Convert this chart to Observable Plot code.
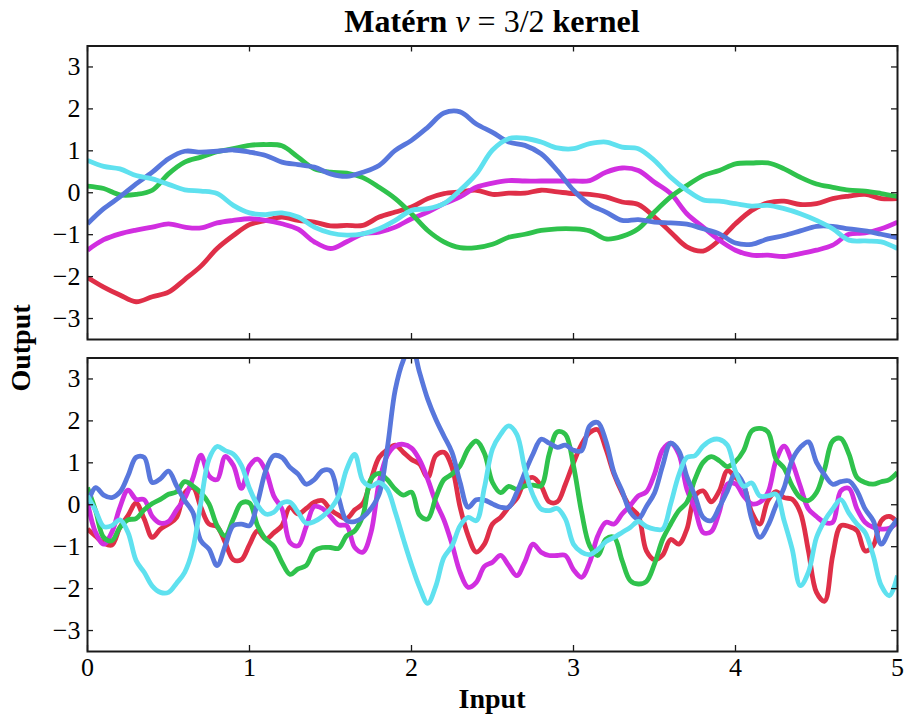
<!DOCTYPE html>
<html>
<head>
<meta charset="utf-8">
<script src="https://cdn.jsdelivr.net/npm/d3@7"></script>
<script src="https://cdn.jsdelivr.net/npm/@observablehq/plot@0.6"></script>
<style>
  body { margin: 0; background: #fff; }
  #wrap { position: relative; width: 906px; height: 719px; font-family: "Liberation Serif", serif; color: #000; overflow: hidden; }
  #title { position: absolute; left: 87px; width: 810px; top: 5px; text-align: center; font-size: 32px; line-height: 32px; white-space: nowrap; }
  #xlabel { position: absolute; left: 87px; width: 810px; top: 685px; text-align: center; font-size: 28px; line-height: 28px; font-weight: bold; }
  #ylabel { position: absolute; left: 21px; top: 348px; transform: translate(-50%, -50%) rotate(-90deg); font-size: 28px; line-height: 28px; font-weight: bold; white-space: nowrap; }
  .panel { position: absolute; left: 0; }
  .panel svg { overflow: visible; }
</style>
</head>
<body>
<div id="wrap">
  <div id="title"><b>Matérn</b> <i>ν</i> = 3/2 <b>kernel</b></div>
  <div class="panel" id="top" style="top:0px"></div>
  <div class="panel" id="bot" style="top:340px"></div>
  <div id="ylabel">Output</div>
  <div id="xlabel">Input</div>
</div>
<script>
// ---------- data ----------
const xTicks = [0, 1, 2, 3, 4, 5];
const yTicks = [-3, -2, -1, 0, 1, 2, 3];

const xTop = [0,0.1,0.2,0.3,0.4,0.5,0.6,0.7,0.8,0.9,1.0,1.1,1.2,1.3,1.4,1.5,1.6,1.7,1.8,1.9,2.0,2.1,2.2,2.3,2.4,2.5,2.6,2.7,2.8,2.9,3.0,3.1,3.2,3.3,3.4,3.5,3.6,3.7,3.8,3.9,4.0,4.1,4.2,4.3,4.4,4.5,4.6,4.7,4.8,4.9,5.0];

const topRed = [-2.02,-2.25,-2.44,-2.60,-2.48,-2.37,-2.07,-1.75,-1.33,-1.02,-0.76,-0.66,-0.58,-0.66,-0.70,-0.79,-0.78,-0.78,-0.58,-0.46,-0.34,-0.14,-0.02,0.02,0.06,-0.04,-0.01,-0.01,0.06,0.02,-0.02,-0.04,-0.10,-0.22,-0.28,-0.58,-0.94,-1.29,-1.39,-1.13,-0.74,-0.42,-0.24,-0.20,-0.28,-0.26,-0.14,-0.08,-0.04,-0.14,-0.14];
const topBlue = [-0.74,-0.38,-0.10,0.21,0.49,0.81,0.99,0.97,0.99,1.02,0.97,0.89,0.73,0.67,0.61,0.45,0.39,0.49,0.65,1.01,1.25,1.56,1.90,1.93,1.64,1.44,1.21,1.13,0.93,0.53,0.06,-0.28,-0.46,-0.66,-0.64,-0.70,-0.72,-0.75,-0.86,-0.98,-1.20,-1.23,-1.10,-1.02,-0.91,-0.80,-0.80,-0.86,-0.91,-0.99,-1.07];
const topGreen = [0.16,0.10,-0.05,-0.04,0.06,0.45,0.73,0.85,0.98,1.05,1.13,1.15,1.12,0.85,0.57,0.49,0.47,0.36,0.13,-0.14,-0.50,-0.90,-1.17,-1.31,-1.31,-1.23,-1.06,-0.99,-0.90,-0.86,-0.86,-0.91,-1.10,-1.04,-0.86,-0.46,-0.10,0.17,0.41,0.53,0.69,0.71,0.71,0.57,0.37,0.21,0.13,0.06,0.04,-0.02,-0.09];
const topMagenta = [-1.37,-1.12,-0.98,-0.89,-0.82,-0.74,-0.82,-0.84,-0.72,-0.66,-0.62,-0.66,-0.74,-0.87,-1.17,-1.33,-1.17,-0.98,-0.94,-0.82,-0.62,-0.46,-0.26,-0.10,0.13,0.23,0.29,0.28,0.28,0.28,0.28,0.29,0.49,0.59,0.53,0.25,-0.02,-0.50,-0.82,-1.13,-1.37,-1.49,-1.49,-1.52,-1.45,-1.37,-1.25,-0.99,-0.96,-0.86,-0.70];
const topCyan = [0.77,0.63,0.57,0.41,0.33,0.20,0.07,0.04,-0.02,-0.30,-0.48,-0.52,-0.48,-0.58,-0.82,-0.96,-1.01,-0.98,-0.86,-0.66,-0.42,-0.38,-0.26,0.06,0.45,1.02,1.29,1.30,1.21,1.07,1.05,1.17,1.21,1.09,1.05,0.77,0.37,0.06,-0.17,-0.20,-0.26,-0.32,-0.30,-0.38,-0.50,-0.66,-0.86,-1.13,-1.15,-1.17,-1.33];

const xBot = [0,0.05,0.1,0.15,0.2,0.25,0.3,0.35,0.4,0.45,0.5,0.55,0.6,0.65,0.7,0.75,0.8,0.85,0.9,0.95,1.0,1.05,1.1,1.15,1.2,1.25,1.3,1.35,1.4,1.45,1.5,1.55,1.6,1.65,1.7,1.75,1.8,1.85,1.9,1.95,2.0,2.05,2.1,2.15,2.2,2.25,2.3,2.35,2.4,2.45,2.5,2.55,2.6,2.65,2.7,2.75,2.8,2.85,2.9,2.95,3.0,3.05,3.1,3.15,3.2,3.25,3.3,3.35,3.4,3.45,3.5,3.55,3.6,3.65,3.7,3.75,3.8,3.85,3.9,3.95,4.0,4.05,4.1,4.15,4.2,4.25,4.3,4.35,4.4,4.45,4.5,4.55,4.6,4.65,4.7,4.75,4.8,4.85,4.9,4.95,5.0];

const botRed = [-0.58,-0.75,-0.91,-0.96,-0.54,-0.26,0.04,-0.34,-0.78,-0.58,-0.46,-0.30,0.28,0.41,-0.06,-0.46,-0.52,-0.90,-1.31,-1.31,-0.95,-0.62,-0.82,-0.67,-0.50,-0.06,-0.22,-0.09,0.06,0.10,-0.12,-0.25,-0.33,-0.12,0.03,0.60,1.13,1.31,1.42,1.25,1.08,0.97,0.65,1.17,1.25,0.89,-0.06,-0.74,-1.13,-0.94,-0.46,-0.30,-0.06,0.15,0.55,0.65,0.45,0.07,0.07,0.49,1.00,1.44,1.72,1.79,1.33,0.73,0.29,-0.06,-0.26,-1.10,-1.31,-1.20,-0.83,-0.94,-0.58,0.21,0.33,0.07,0.33,0.81,0.65,0.45,-0.18,-0.46,0.10,0.31,0.17,0.13,-0.18,-1.10,-2.09,-2.30,-1.21,-0.50,-0.52,-0.62,-1.10,-0.98,-0.38,-0.28,-0.42];
const botBlue = [0.02,0.41,0.23,0.17,0.30,0.69,1.13,1.13,0.53,0.62,0.80,0.45,0.10,-0.18,-0.86,-1.06,-1.45,-0.98,-0.50,-0.46,-0.50,0.06,0.81,1.17,1.13,0.89,0.73,0.49,0.60,0.81,0.81,0.17,-0.38,-0.40,-0.30,-0.09,0.25,1.33,2.75,3.45,3.80,3.15,2.52,2.04,1.64,1.25,0.53,-0.06,0.12,0.11,0.02,-0.06,-0.06,0.29,0.77,1.21,1.56,1.47,1.37,1.42,1.30,1.29,1.88,1.96,1.52,0.77,0.33,-0.17,-0.34,-0.04,0.28,0.93,1.47,1.29,0.67,0.21,-0.30,-0.38,-0.06,0.33,0.75,0.49,-0.34,-0.78,-0.50,-0.02,0.41,1.07,1.37,1.50,1.01,0.71,0.49,0.55,0.57,0.33,-0.10,-0.38,-0.94,-0.62,-0.34];
const botGreen = [0.41,-0.14,-0.78,-0.86,-0.54,-0.36,-0.33,-0.12,0.03,0.13,0.25,0.31,0.55,0.45,0.29,0.02,-0.50,-0.74,-0.34,0.04,0.04,-0.50,-0.82,-0.99,-1.37,-1.66,-1.53,-1.45,-1.10,-1.02,-1.02,-1.04,-0.74,-0.62,-0.26,0.61,0.75,0.60,0.37,0.23,0.30,-0.25,-0.34,0.17,0.60,0.73,0.93,1.33,1.52,1.23,0.53,0.29,0.44,0.37,0.45,0.47,0.45,1.21,1.74,1.68,0.93,-0.18,-0.98,-1.21,-0.82,-0.78,-1.33,-1.81,-1.89,-1.83,-1.41,-0.83,-0.46,-0.14,0.06,0.61,1.01,1.15,1.05,0.91,1.03,1.29,1.76,1.82,1.74,1.09,0.87,0.45,0.17,0.10,0.29,0.85,1.52,1.58,1.21,0.65,0.53,0.49,0.55,0.60,0.77];
const botMagenta = [0.06,-0.66,-0.94,-0.66,-0.06,0.35,0.13,0.12,-0.28,-0.44,-0.40,-0.12,0.15,0.63,1.18,0.69,0.60,1.15,0.94,0.39,0.93,1.09,0.81,0.21,-0.10,-0.90,-0.98,-0.52,-0.04,-0.09,-0.28,-0.48,-0.50,-1.02,-1.13,-0.66,0.53,1.17,1.40,1.44,1.35,1.07,0.61,0.06,-0.36,-0.94,-1.61,-1.97,-1.85,-1.47,-1.37,-1.21,-1.45,-1.69,-1.36,-0.94,-1.13,-1.21,-1.21,-1.21,-1.55,-1.73,-1.37,-0.74,-0.42,-0.46,-0.22,-0.02,0.21,0.31,0.73,1.31,1.47,1.21,0.37,-0.10,-0.66,-0.64,-0.17,0.49,0.50,0.21,0.02,0.06,0.29,1.05,1.40,1.01,0.44,-0.10,-0.28,-0.42,-0.42,0.33,0.39,-0.10,-0.42,-0.54,-0.58,-0.56,-0.42];
const botCyan = [0.21,-0.14,-0.52,-0.50,-0.36,-0.66,-1.33,-1.61,-1.94,-2.09,-2.09,-1.87,-1.61,-1.06,0.06,1.09,1.39,1.29,1.21,0.94,0.39,-0.01,-0.22,-0.18,0.04,0.06,-0.18,-0.44,-0.40,-0.28,-0.10,0.20,0.85,1.20,0.57,0.44,0.53,0.37,-0.18,-0.82,-1.43,-1.97,-2.35,-1.94,-1.26,-0.98,-0.50,-0.30,-0.38,0.41,1.33,1.68,1.88,1.68,0.85,0.23,-0.10,-0.14,-0.09,-0.34,-0.94,-1.13,-1.19,-1.07,-0.88,-0.78,-0.66,-0.54,-0.40,-0.52,-0.58,-0.58,0.02,0.71,1.13,1.17,1.40,1.54,1.56,1.42,0.80,0.44,0.52,0.21,0.21,0.25,-0.38,-1.06,-1.93,-1.61,-0.78,-0.38,-0.10,0.12,-0.20,-0.46,-0.66,-1.21,-1.93,-2.17,-1.69];

const seriesColors = { red: "#df2f48", magenta: "#d12ee0", green: "#2fc24c", blue: "#5877dc", cyan: "#5fe1ef" };
const seriesOrder = ["red", "magenta", "green", "blue", "cyan"];
const topSeries = { red: topRed, blue: topBlue, green: topGreen, magenta: topMagenta, cyan: topCyan };
const botSeries = { red: botRed, blue: botBlue, green: botGreen, magenta: botMagenta, cyan: botCyan };

// ---------- drawing ----------
const PH = 293.5, PW = 810;
const fmt = d => (d < 0 ? "\u2212" + Math.abs(d) : String(d));
const rows = (xs, ys) => xs.map((x, i) => ({ x, y: ys[i] }));
const ink = "#1a1a1a";

function panel({ xs, series, marginTop, marginBottom, showX, curve }) {
  const marks = [];
  for (const name of seriesOrder) {
    marks.push(Plot.line(rows(xs, series[name]), {
      x: "x", y: "y", stroke: seriesColors[name], strokeWidth: 4.8,
      curve, clip: true, strokeLinejoin: "round", strokeLinecap: "butt"
    }));
  }
  marks.push(
    Plot.tickX(xTicks, { x: d => d, insetTop: PH - 6, stroke: ink, strokeWidth: 1.3 }),
    Plot.tickX(xTicks, { x: d => d, insetBottom: PH - 6, stroke: ink, strokeWidth: 1.3 }),
    Plot.tickY(yTicks, { y: d => d, insetRight: PW - 6, stroke: ink, strokeWidth: 1.3 }),
    Plot.tickY(yTicks, { y: d => d, insetLeft: PW - 6, stroke: ink, strokeWidth: 1.3 }),
    Plot.frame({ stroke: ink, strokeWidth: 2 }),
    Plot.axisY(yTicks, { tickSize: 0, tickPadding: 7, tickFormat: fmt, label: null, fontSize: 26, fill: "#000" })
  );
  if (showX) {
    marks.push(Plot.axisX(xTicks, { tickSize: 0, tickPadding: 6, tickFormat: fmt, label: null, fontSize: 26, fill: "#000" }));
  }
  return Plot.plot({
    width: 906,
    height: marginTop + PH + marginBottom,
    marginLeft: 87, marginRight: 9, marginTop, marginBottom,
    x: { domain: [0, 5], axis: showX ? undefined : null, label: null },
    y: { domain: [-3.5, 3.5], label: null },
    style: { fontFamily: "Liberation Serif, serif", fontSize: "26px", background: "transparent", overflow: "visible", color: "#000" },
    marks
  });
}

document.getElementById("top").appendChild(
  panel({ xs: xTop, series: topSeries, marginTop: 45.5, marginBottom: 1, showX: false, curve: "catmull-rom" })
);
document.getElementById("bot").appendChild(
  panel({ xs: xBot, series: botSeries, marginTop: 17.5, marginBottom: 45, showX: true, curve: "catmull-rom" })
);
</script>
</body>
</html>
